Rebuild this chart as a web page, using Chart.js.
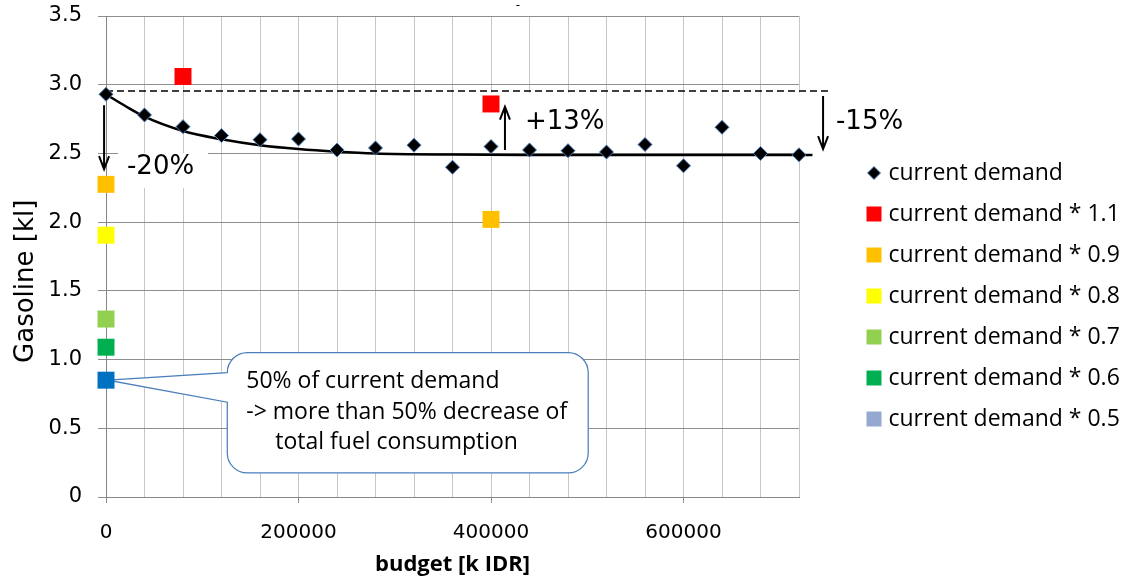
<!DOCTYPE html>
<html>
<head>
<meta charset="utf-8">
<script src="https://cdn.jsdelivr.net/npm/chart.js@4.4.1/dist/chart.umd.min.js"></script>
<style>
  html, body { margin: 0; padding: 0; background: #fff; }
</style>
</head>
<body>
<canvas id="gasolineChart" width="1125" height="583"></canvas>
<script>
// budget steps [k IDR] and fuel demand per budget
const budget = [0, 40000, 80000, 120000, 160000, 200000, 240000, 280000, 320000, 360000,
                400000, 440000, 480000, 520000, 560000, 600000, 640000, 680000, 720000];
const currentDemand = [2.93, 2.78, 2.695, 2.63, 2.60, 2.605, 2.525, 2.54, 2.56, 2.40,
                       2.55, 2.525, 2.52, 2.51, 2.565, 2.41, 2.69, 2.50, 2.49];

// scaled demand scenarios
const demand11X = [80000, 400000];
const demand11Y = [3.06, 2.86];
const demand09X = [0, 400000];
const demand09Y = [2.275, 2.02];
const demand08X = [0];
const demand08Y = [1.905];
const demand07X = [0];
const demand07Y = [1.295];
const demand06X = [0];
const demand06Y = [1.09];
const demand05X = [0];
const demand05Y = [0.85];

// trend line
const trendX = [0, 20000, 40000, 80000, 120000, 160000, 200000, 240000, 280000, 360000,
                440000, 520000, 600000, 680000, 734000];
const trendY = [2.93, 2.845, 2.767, 2.663, 2.603, 2.56, 2.532, 2.513, 2.50, 2.492,
                2.489, 2.488, 2.488, 2.488, 2.488];

// dashed reference level (demand at zero budget)
const refX = [0, 753000];
const refY = [2.955, 2.955];

const seriesNames = ['current demand', 'current demand * 1.1', 'current demand * 0.9',
                     'current demand * 0.8', 'current demand * 0.7', 'current demand * 0.6',
                     'current demand * 0.5'];
const markerColors = ['#000000', '#FF0000', '#FFC000', '#FFFF00', '#92D050', '#00B050', '#0070C0'];
const legendColors = ['#000000', '#FF0000', '#FFC000', '#FFFF00', '#92D050', '#00B050', '#95A9D0'];

const yTickLabels = ['0', '0.5', '1.0', '1.5', '2.0', '2.5', '3.0', '3.5'];
const xTickLabels = ['0', '200000', '400000', '600000'];

const LEGEND_WIDTH = 272;

function pts(xs, ys) {
    return xs.map((x, i) => ({ x: x, y: ys[i] }));
}

// small diamond icon for the legend entry
const diamondIcon = document.createElement('canvas');
diamondIcon.width = 16;
diamondIcon.height = 16;
(function () {
    const c = diamondIcon.getContext('2d');
    c.beginPath();
    c.moveTo(8, 1.5); c.lineTo(14.5, 8); c.lineTo(8, 14.5); c.lineTo(1.5, 8);
    c.closePath();
    c.fillStyle = '#000';
    c.fill();
    c.strokeStyle = '#4A7EBB';
    c.lineWidth = 1;
    c.stroke();
})();

const scaledX = [demand11X, demand09X, demand08X, demand07X, demand06X, demand05X];
const scaledY = [demand11Y, demand09Y, demand08Y, demand07Y, demand06Y, demand05Y];

const datasets = [{
    label: seriesNames[0],
    data: pts(budget, currentDemand),
    showLine: false,
    pointStyle: 'rectRot',
    pointRadius: 7,
    backgroundColor: '#000',
    borderColor: '#4A7EBB',
    borderWidth: 1,
    clip: false,
    order: 0
}];
scaledX.forEach((xs, i) => {
    datasets.push({
        label: seriesNames[i + 1],
        data: pts(xs, scaledY[i]),
        showLine: false,
        pointStyle: 'rect',
        pointRadius: 12,
        backgroundColor: markerColors[i + 1],
        borderColor: markerColors[i + 1],
        borderWidth: 0,
        clip: false,
        order: 0
    });
});
datasets.push({
    label: 'trend',
    data: pts(trendX, trendY),
    borderColor: '#000',
    borderWidth: 2.5,
    pointRadius: 0,
    cubicInterpolationMode: 'monotone',
    clip: false,
    order: 2
});
datasets.push({
    label: 'reference',
    data: pts(refX, refY),
    borderColor: '#000',
    borderWidth: 1.5,
    borderDash: [7, 4],
    pointRadius: 0,
    clip: false,
    order: 3
});

function drawArrow(ctx, x, y1, y2) {
    const dir = y2 > y1 ? 1 : -1;
    ctx.beginPath();
    ctx.moveTo(x, y1);
    ctx.lineTo(x, y2);
    ctx.moveTo(x - 5, y2 - dir * 13);
    ctx.lineTo(x, y2);
    ctx.lineTo(x + 5, y2 - dir * 13);
    ctx.stroke();
}

// keep the legend a fixed width so the plot ends where it should
const legendFit = {
    id: 'legendFit',
    beforeLayout(chart) {
        const lg = chart.legend;
        if (lg && !lg._fixedWidth) {
            const fit = lg.fit;
            lg.fit = function () {
                fit.call(this);
                this.width = LEGEND_WIDTH;
            };
            lg._fixedWidth = true;
        }
    }
};

// arrows, percentage labels and the callout box
const annotations = {
    id: 'annotations',
    beforeDatasetsDraw(chart) {
        const { ctx, scales: { x, y } } = chart;
        ctx.save();
        ctx.fillStyle = '#fff';
        [[12500, 106000, 2.503, 2.248], [399000, 518400, 2.94, 2.561], [710600, 830000, 2.94, 2.525]]
            .forEach(b => {
                const l = x.getPixelForValue(b[0]), r = x.getPixelForValue(b[1]);
                const t = y.getPixelForValue(b[2]), bt = y.getPixelForValue(b[3]);
                ctx.fillRect(l, t, r - l, bt - t);
            });

        const l = x.getPixelForValue(126000), r = x.getPixelForValue(501000);
        const t = y.getPixelForValue(1.05), b = y.getPixelForValue(0.175);
        const tipX = x.getPixelForValue(2000), tipY = y.getPixelForValue(0.85);
        const rad = 20;
        ctx.beginPath();
        ctx.moveTo(tipX, tipY);
        ctx.lineTo(l, t + rad);
        ctx.arcTo(l, t, l + rad, t, rad);
        ctx.arcTo(r, t, r, t + rad, rad);
        ctx.arcTo(r, b, r - rad, b, rad);
        ctx.arcTo(l, b, l, b - rad, rad);
        ctx.lineTo(l, y.getPixelForValue(0.69));
        ctx.closePath();
        ctx.fillStyle = '#fff';
        ctx.fill();
        ctx.strokeStyle = '#4A7EBB';
        ctx.lineWidth = 1.25;
        ctx.stroke();
        ctx.restore();
    },
    afterDatasetsDraw(chart) {
        const { ctx, scales: { x, y } } = chart;
        ctx.save();
        ctx.strokeStyle = '#000';
        ctx.lineWidth = 2;
        drawArrow(ctx, x.getPixelForValue(-2000), y.getPixelForValue(2.85), y.getPixelForValue(2.385));
        drawArrow(ctx, x.getPixelForValue(414500), y.getPixelForValue(2.525), y.getPixelForValue(2.84));
        drawArrow(ctx, x.getPixelForValue(745000), y.getPixelForValue(2.918), y.getPixelForValue(2.532));

        ctx.fillStyle = '#000';
        ctx.textAlign = 'left';
        ctx.textBaseline = 'middle';
        ctx.font = '26px "DejaVu Sans"';
        ctx.fillText('-20%', x.getPixelForValue(21800), y.getPixelForValue(2.401));
        ctx.fillText('+13%', x.getPixelForValue(435300), y.getPixelForValue(2.729));
        ctx.fillText('-15%', x.getPixelForValue(758400), y.getPixelForValue(2.729));

        const l = x.getPixelForValue(126000), t = y.getPixelForValue(1.05);
        ctx.font = '23px "Open Sans"';
        ctx.fillText('50% of current demand', l + 19, t + 29);
        ctx.fillText('-> more than 50% decrease of', l + 19, t + 60);
        ctx.fillText('total fuel consumption', l + 48, t + 90);

        ctx.font = '12px "DejaVu Sans"';
        ctx.textAlign = 'center';
        ctx.fillText('-', 518, 6);
        ctx.restore();
    }
};

new Chart(document.getElementById('gasolineChart'), {
    type: 'line',
    data: { datasets: datasets },
    plugins: [legendFit, annotations],
    options: {
        responsive: false,
        animation: false,
        events: [],
        layout: { padding: { top: 16, bottom: 7, left: 0, right: 0 } },
        plugins: {
            tooltip: { enabled: false },
            legend: {
                position: 'right',
                align: 'center',
                labels: {
                    usePointStyle: true,
                    boxWidth: 6,
                    boxHeight: 15,
                    padding: 18,
                    color: '#000',
                    font: { family: 'Open Sans', size: 23 },
                    filter: item => item.datasetIndex < seriesNames.length,
                    generateLabels(chart) {
                        const items = Chart.defaults.plugins.legend.labels.generateLabels(chart);
                        return items.map(it => {
                            const i = it.datasetIndex;
                            if (i === 0) {
                                it.pointStyle = diamondIcon;
                            } else if (i < seriesNames.length) {
                                it.pointStyle = 'rect';
                                it.fillStyle = legendColors[i];
                                it.strokeStyle = 'rgba(0,0,0,0)';
                                it.lineWidth = 0;
                            }
                            return it;
                        });
                    }
                }
            }
        },
        scales: {
            x: {
                type: 'linear',
                min: 0,
                max: 720000,
                afterFit: s => { s.height = 79; },
                ticks: {
                    stepSize: 40000,
                    autoSkip: false,
                    maxRotation: 0,
                    padding: 18,
                    color: '#000',
                    font: { family: 'DejaVu Sans', size: 20 },
                    callback: v => xTickLabels.includes(String(v)) ? String(v) : ''
                },
                grid: {
                    color: '#C6C6C6',
                    tickLength: 6,
                    tickColor: c => xTickLabels.includes(String(c.tick && c.tick.value)) ? '#8E8E8E' : 'rgba(0,0,0,0)'
                },
                border: { color: '#868686' },
                title: {
                    display: true,
                    text: 'budget [k IDR]',
                    color: '#000',
                    font: { family: 'Open Sans', size: 22, weight: 'bold', lineHeight: 1 },
                    padding: { top: 0, bottom: 0 }
                }
            },
            y: {
                min: 0,
                max: 3.5,
                afterFit: s => {
                    s.width = 106;
                    s.paddingTop = 10;
                    s.paddingBottom = 10;
                },
                ticks: {
                    stepSize: 0.5,
                    padding: 16,
                    color: '#000',
                    font: { family: 'DejaVu Sans', size: 21 },
                    callback: v => yTickLabels[Math.round(v * 2)]
                },
                grid: { color: '#8E8E8E', tickLength: 8, tickColor: '#8E8E8E' },
                border: { color: '#868686' },
                title: {
                    display: true,
                    text: 'Gasoline [kl]      ',
                    color: '#000',
                    font: { family: 'DejaVu Sans', size: 26 },
                    padding: { top: 11, bottom: 0 }
                }
            },
            yGap: {
                type: 'linear',
                position: 'right',
                display: true,
                afterFit: s => { s.width = 1125 - LEGEND_WIDTH - 799; },
                ticks: { display: false },
                grid: { display: false, drawTicks: false },
                border: { display: false }
            }
        }
    }
});
</script>
</body>
</html>
